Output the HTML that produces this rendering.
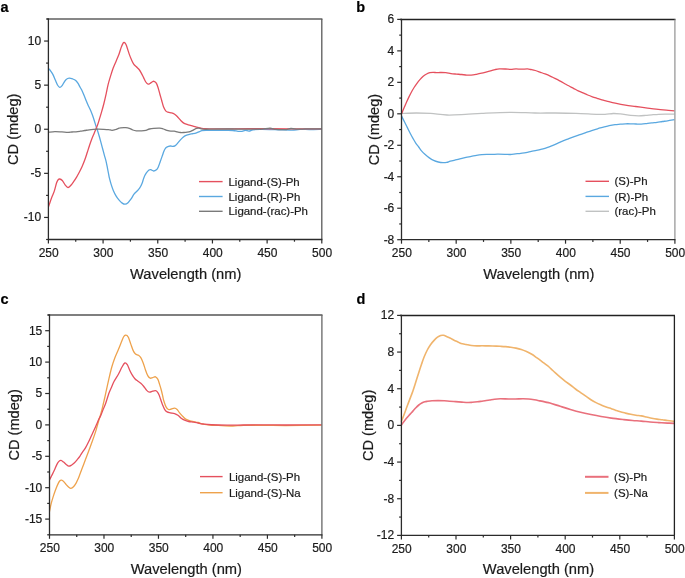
<!DOCTYPE html>
<html><head><meta charset="utf-8"><title>CD spectra</title>
<style>
html,body{margin:0;padding:0;background:#fff;}
body{width:685px;height:578px;overflow:hidden;}
svg{display:block;will-change:transform;font-family:"Liberation Sans", sans-serif;}
text{stroke:#1a1a1a;stroke-width:0.2px;paint-order:stroke;}
</style></head><body>
<svg width="685" height="578" viewBox="0 0 685 578"><g><path d="M48.50,68.50 C48.90,68.97 50.13,70.23 50.90,71.30 C51.67,72.37 52.37,73.43 53.10,74.90 C53.83,76.37 54.57,78.42 55.30,80.10 C56.03,81.78 56.77,83.80 57.50,85.00 C58.23,86.20 58.97,87.15 59.70,87.30 C60.43,87.45 61.17,86.73 61.90,85.90 C62.63,85.07 63.38,83.38 64.10,82.30 C64.82,81.22 65.35,80.08 66.20,79.40 C67.05,78.72 68.10,78.27 69.20,78.20 C70.30,78.13 71.72,78.63 72.80,79.00 C73.88,79.37 74.85,79.70 75.70,80.40 C76.55,81.10 77.17,82.07 77.90,83.20 C78.63,84.33 79.37,85.87 80.10,87.20 C80.83,88.53 81.65,89.85 82.30,91.20 C82.95,92.55 83.42,93.88 84.00,95.30 C84.58,96.72 85.15,98.13 85.80,99.70 C86.45,101.27 87.17,103.05 87.90,104.70 C88.63,106.35 89.43,107.83 90.20,109.60 C90.97,111.37 91.80,113.40 92.50,115.30 C93.20,117.20 93.77,119.03 94.40,121.00 C95.03,122.97 95.85,125.72 96.30,127.10 C96.75,128.48 96.63,127.85 97.10,129.30 C97.57,130.75 98.45,133.58 99.10,135.80 C99.75,138.02 100.40,140.40 101.00,142.60 C101.60,144.80 102.13,146.88 102.70,149.00 C103.27,151.12 103.82,153.17 104.40,155.30 C104.98,157.43 105.68,159.63 106.20,161.80 C106.72,163.97 107.10,166.27 107.50,168.30 C107.90,170.33 108.27,172.32 108.60,174.00 C108.93,175.68 109.05,176.58 109.50,178.40 C109.95,180.22 110.65,182.85 111.30,184.90 C111.95,186.95 112.62,188.88 113.40,190.70 C114.18,192.52 115.08,194.28 116.00,195.80 C116.92,197.32 117.87,198.58 118.90,199.80 C119.93,201.02 121.17,202.37 122.20,203.10 C123.23,203.83 124.13,204.27 125.10,204.20 C126.07,204.13 127.03,203.55 128.00,202.70 C128.97,201.85 129.90,200.52 130.90,199.10 C131.90,197.68 133.02,195.50 134.00,194.20 C134.98,192.90 135.87,192.30 136.80,191.30 C137.73,190.30 138.73,189.50 139.60,188.20 C140.47,186.90 141.30,185.22 142.00,183.50 C142.70,181.78 143.10,179.62 143.80,177.90 C144.50,176.18 145.33,174.50 146.20,173.20 C147.07,171.90 148.23,170.68 149.00,170.10 C149.77,169.52 150.03,169.55 150.80,169.70 C151.57,169.85 152.67,170.98 153.60,171.00 C154.53,171.02 155.62,170.48 156.40,169.80 C157.18,169.12 157.67,168.25 158.30,166.90 C158.93,165.55 159.57,163.45 160.20,161.70 C160.83,159.95 161.48,158.13 162.10,156.40 C162.72,154.67 163.42,152.53 163.90,151.30 C164.38,150.07 164.57,149.67 165.00,149.00 C165.43,148.33 165.92,147.75 166.50,147.30 C167.08,146.85 167.83,146.52 168.50,146.30 C169.17,146.08 169.82,145.98 170.50,146.00 C171.18,146.02 171.87,146.42 172.60,146.40 C173.33,146.38 174.12,146.37 174.90,145.90 C175.68,145.43 176.42,144.57 177.30,143.60 C178.18,142.63 179.23,141.17 180.20,140.10 C181.17,139.03 182.13,137.98 183.10,137.20 C184.07,136.42 184.93,135.88 186.00,135.40 C187.07,134.92 188.33,134.58 189.50,134.30 C190.67,134.02 191.83,133.95 193.00,133.70 C194.17,133.45 195.42,133.15 196.50,132.80 C197.58,132.45 198.62,131.97 199.50,131.60 C200.38,131.23 200.72,130.82 201.80,130.60 C202.88,130.38 203.80,130.33 206.00,130.30 C208.20,130.27 211.83,130.38 215.00,130.40 C218.17,130.42 222.00,130.38 225.00,130.40 C228.00,130.42 230.83,130.35 233.00,130.50 C235.17,130.65 236.50,131.17 238.00,131.30 C239.50,131.43 240.78,131.47 242.00,131.30 C243.22,131.13 244.13,130.33 245.30,130.30 C246.47,130.27 247.72,131.18 249.00,131.10 C250.28,131.02 251.17,130.08 253.00,129.80 C254.83,129.52 257.17,129.45 260.00,129.40 C262.83,129.35 266.67,129.42 270.00,129.50 C273.33,129.58 276.33,129.80 280.00,129.90 C283.67,130.00 288.67,130.18 292.00,130.10 C295.33,130.02 297.00,129.50 300.00,129.40 C303.00,129.30 306.42,129.53 310.00,129.50 C313.58,129.47 319.58,129.25 321.50,129.20" fill="none" stroke="#5aa8e0" stroke-width="1.3" stroke-linejoin="round"/><path d="M48.50,206.80 C49.05,205.20 50.85,199.77 51.80,197.20 C52.75,194.63 53.40,193.80 54.20,191.40 C55.00,189.00 55.93,184.75 56.60,182.80 C57.27,180.85 57.70,180.33 58.20,179.70 C58.70,179.07 58.92,178.87 59.60,179.00 C60.28,179.13 61.38,179.53 62.30,180.50 C63.22,181.47 64.15,183.63 65.10,184.80 C66.05,185.97 67.03,187.42 68.00,187.50 C68.97,187.58 69.93,186.32 70.90,185.30 C71.87,184.28 72.85,182.77 73.80,181.40 C74.75,180.03 75.73,178.53 76.60,177.10 C77.47,175.67 78.10,174.52 79.00,172.80 C79.90,171.08 81.00,169.05 82.00,166.80 C83.00,164.55 84.12,161.72 85.00,159.30 C85.88,156.88 86.57,154.55 87.30,152.30 C88.03,150.05 88.68,147.92 89.40,145.80 C90.12,143.68 90.87,141.53 91.60,139.60 C92.33,137.67 93.13,135.83 93.80,134.20 C94.47,132.57 94.93,131.45 95.60,129.80 C96.27,128.15 97.18,126.02 97.80,124.30 C98.42,122.58 98.67,121.57 99.30,119.50 C99.93,117.43 100.83,114.57 101.60,111.90 C102.37,109.23 103.13,106.55 103.90,103.50 C104.67,100.45 105.50,96.75 106.20,93.60 C106.90,90.45 107.40,87.43 108.10,84.60 C108.80,81.77 109.57,79.33 110.40,76.60 C111.23,73.87 112.13,70.82 113.10,68.20 C114.07,65.58 115.23,63.18 116.20,60.90 C117.17,58.62 118.07,56.75 118.90,54.50 C119.73,52.25 120.52,49.27 121.20,47.40 C121.88,45.53 122.52,44.13 123.00,43.30 C123.48,42.47 123.60,42.20 124.10,42.40 C124.60,42.60 125.38,43.28 126.00,44.50 C126.62,45.72 127.20,47.93 127.80,49.70 C128.40,51.47 129.00,53.45 129.60,55.10 C130.20,56.75 130.72,58.10 131.40,59.60 C132.08,61.10 132.87,62.90 133.70,64.10 C134.53,65.30 135.50,65.90 136.40,66.80 C137.30,67.70 138.28,68.45 139.10,69.50 C139.92,70.55 140.55,71.75 141.30,73.10 C142.05,74.45 142.85,76.12 143.60,77.60 C144.35,79.08 145.05,80.90 145.80,82.00 C146.55,83.10 147.32,84.02 148.10,84.20 C148.88,84.38 149.85,83.47 150.50,83.10 C151.15,82.73 151.42,82.30 152.00,82.00 C152.58,81.70 153.28,81.10 154.00,81.30 C154.72,81.50 155.62,82.12 156.30,83.20 C156.98,84.28 157.50,85.97 158.10,87.80 C158.70,89.63 159.30,92.08 159.90,94.20 C160.50,96.32 161.10,98.40 161.70,100.50 C162.30,102.60 162.83,105.08 163.50,106.80 C164.17,108.52 164.95,109.90 165.70,110.80 C166.45,111.70 167.02,111.85 168.00,112.20 C168.98,112.55 170.55,112.60 171.60,112.90 C172.65,113.20 173.40,113.45 174.30,114.00 C175.20,114.55 175.95,115.15 177.00,116.20 C178.05,117.25 179.40,119.10 180.60,120.30 C181.80,121.50 182.93,122.65 184.20,123.40 C185.47,124.15 186.73,124.35 188.20,124.80 C189.67,125.25 191.42,125.67 193.00,126.10 C194.58,126.53 196.23,127.03 197.70,127.40 C199.17,127.77 200.58,128.08 201.80,128.30 C203.02,128.52 203.63,128.62 205.00,128.70 C206.37,128.78 205.83,128.77 210.00,128.80 C214.17,128.83 221.67,128.92 230.00,128.90 C238.33,128.88 250.00,128.70 260.00,128.70 C270.00,128.70 279.75,128.87 290.00,128.90 C300.25,128.93 316.25,128.90 321.50,128.90" fill="none" stroke="#e5505e" stroke-width="1.3" stroke-linejoin="round"/><path d="M48.50,132.20 C49.57,132.10 52.67,131.65 54.90,131.60 C57.13,131.55 59.73,131.78 61.90,131.90 C64.07,132.02 66.22,132.28 67.90,132.30 C69.58,132.32 70.65,132.08 72.00,132.00 C73.35,131.92 74.60,131.93 76.00,131.80 C77.40,131.67 78.95,131.42 80.40,131.20 C81.85,130.98 83.25,130.73 84.70,130.50 C86.15,130.27 87.65,129.98 89.10,129.80 C90.55,129.62 91.95,129.50 93.40,129.40 C94.85,129.30 96.15,129.22 97.80,129.20 C99.45,129.18 101.53,129.23 103.30,129.30 C105.07,129.37 106.95,129.43 108.40,129.60 C109.85,129.77 110.80,130.32 112.00,130.30 C113.20,130.28 114.52,129.83 115.60,129.50 C116.68,129.17 117.68,128.58 118.50,128.30 C119.32,128.02 119.28,127.90 120.50,127.80 C121.72,127.70 124.33,127.62 125.80,127.70 C127.27,127.78 128.13,127.92 129.30,128.30 C130.47,128.68 131.63,129.58 132.80,130.00 C133.97,130.42 134.85,130.67 136.30,130.80 C137.75,130.93 139.90,130.88 141.50,130.80 C143.10,130.72 144.58,130.60 145.90,130.30 C147.22,130.00 148.08,129.33 149.40,129.00 C150.72,128.67 152.05,128.45 153.80,128.30 C155.55,128.15 158.30,127.98 159.90,128.10 C161.50,128.22 162.23,128.63 163.40,129.00 C164.57,129.37 165.67,129.93 166.90,130.30 C168.13,130.67 169.57,131.07 170.80,131.20 C172.03,131.33 173.22,130.98 174.30,131.10 C175.38,131.22 176.32,131.67 177.30,131.90 C178.28,132.13 179.13,132.40 180.20,132.50 C181.27,132.60 182.53,132.55 183.70,132.50 C184.87,132.45 186.03,132.40 187.20,132.20 C188.37,132.00 189.63,131.68 190.70,131.30 C191.77,130.92 192.63,130.38 193.60,129.90 C194.57,129.42 195.62,128.70 196.50,128.40 C197.38,128.10 198.12,128.02 198.90,128.10 C199.68,128.18 200.18,128.70 201.20,128.90 C202.22,129.10 203.53,129.27 205.00,129.30 C206.47,129.33 205.83,129.15 210.00,129.10 C214.17,129.05 222.50,129.00 230.00,129.00 C237.50,129.00 249.67,129.07 255.00,129.10 C260.33,129.13 259.50,129.35 262.00,129.20 C264.50,129.05 267.67,128.17 270.00,128.20 C272.33,128.23 273.50,129.17 276.00,129.40 C278.50,129.63 282.50,129.75 285.00,129.60 C287.50,129.45 288.83,128.57 291.00,128.50 C293.17,128.43 295.67,129.13 298.00,129.20 C300.33,129.27 302.67,128.97 305.00,128.90 C307.33,128.83 309.25,128.80 312.00,128.80 C314.75,128.80 319.92,128.88 321.50,128.90" fill="none" stroke="#7a7a7a" stroke-width="1.3" stroke-linejoin="round"/></g><line x1="46.9" y1="19.0" x2="322.40000000000003" y2="19.0" stroke="#5f5f5f" stroke-width="1.5"/><line x1="321.8" y1="19.0" x2="321.8" y2="239.5" stroke="#5a5a5a" stroke-width="1.3"/><line x1="48.4" y1="18.4" x2="48.4" y2="240.1" stroke="#2b2b2b" stroke-width="1.3"/><line x1="47.8" y1="239.5" x2="322.40000000000003" y2="239.5" stroke="#2b2b2b" stroke-width="1.3"/><line x1="44.1" y1="41.05" x2="48.4" y2="41.05" stroke="#2b2b2b" stroke-width="1.2"/><text x="41.20" y="44.85" text-anchor="end" font-size="12" fill="#1a1a1a">10</text><line x1="44.1" y1="85.15" x2="48.4" y2="85.15" stroke="#2b2b2b" stroke-width="1.2"/><text x="41.20" y="88.95" text-anchor="end" font-size="12" fill="#1a1a1a">5</text><line x1="44.1" y1="129.25" x2="48.4" y2="129.25" stroke="#2b2b2b" stroke-width="1.2"/><text x="41.20" y="133.05" text-anchor="end" font-size="12" fill="#1a1a1a">0</text><line x1="44.1" y1="173.35" x2="48.4" y2="173.35" stroke="#2b2b2b" stroke-width="1.2"/><text x="41.20" y="177.15" text-anchor="end" font-size="12" fill="#1a1a1a">-5</text><line x1="44.1" y1="217.45" x2="48.4" y2="217.45" stroke="#2b2b2b" stroke-width="1.2"/><text x="41.20" y="221.25" text-anchor="end" font-size="12" fill="#1a1a1a">-10</text><line x1="46.1" y1="19.00" x2="48.4" y2="19.00" stroke="#2b2b2b" stroke-width="1.2"/><line x1="46.1" y1="63.10" x2="48.4" y2="63.10" stroke="#2b2b2b" stroke-width="1.2"/><line x1="46.1" y1="107.20" x2="48.4" y2="107.20" stroke="#2b2b2b" stroke-width="1.2"/><line x1="46.1" y1="151.30" x2="48.4" y2="151.30" stroke="#2b2b2b" stroke-width="1.2"/><line x1="46.1" y1="195.40" x2="48.4" y2="195.40" stroke="#2b2b2b" stroke-width="1.2"/><line x1="46.1" y1="239.50" x2="48.4" y2="239.50" stroke="#2b2b2b" stroke-width="1.2"/><line x1="48.40" y1="239.5" x2="48.40" y2="243.5" stroke="#2b2b2b" stroke-width="1.2"/><text x="48.70" y="256.80" text-anchor="middle" font-size="12" fill="#1a1a1a">250</text><line x1="103.08" y1="239.5" x2="103.08" y2="243.5" stroke="#2b2b2b" stroke-width="1.2"/><text x="103.38" y="256.80" text-anchor="middle" font-size="12" fill="#1a1a1a">300</text><line x1="157.76" y1="239.5" x2="157.76" y2="243.5" stroke="#2b2b2b" stroke-width="1.2"/><text x="158.06" y="256.80" text-anchor="middle" font-size="12" fill="#1a1a1a">350</text><line x1="212.44" y1="239.5" x2="212.44" y2="243.5" stroke="#2b2b2b" stroke-width="1.2"/><text x="212.74" y="256.80" text-anchor="middle" font-size="12" fill="#1a1a1a">400</text><line x1="267.12" y1="239.5" x2="267.12" y2="243.5" stroke="#2b2b2b" stroke-width="1.2"/><text x="267.42" y="256.80" text-anchor="middle" font-size="12" fill="#1a1a1a">450</text><line x1="321.80" y1="239.5" x2="321.80" y2="243.5" stroke="#2b2b2b" stroke-width="1.2"/><text x="322.10" y="256.80" text-anchor="middle" font-size="12" fill="#1a1a1a">500</text><line x1="75.74" y1="239.5" x2="75.74" y2="241.7" stroke="#2b2b2b" stroke-width="1.2"/><line x1="130.42" y1="239.5" x2="130.42" y2="241.7" stroke="#2b2b2b" stroke-width="1.2"/><line x1="185.10" y1="239.5" x2="185.10" y2="241.7" stroke="#2b2b2b" stroke-width="1.2"/><line x1="239.78" y1="239.5" x2="239.78" y2="241.7" stroke="#2b2b2b" stroke-width="1.2"/><line x1="294.46" y1="239.5" x2="294.46" y2="241.7" stroke="#2b2b2b" stroke-width="1.2"/><text x="185.70" y="278.50" text-anchor="middle" font-size="14.7" fill="#1a1a1a">Wavelength (nm)</text><text transform="translate(18.40,129.25) rotate(-90)" text-anchor="middle" font-size="14.6" fill="#1a1a1a">CD (mdeg)</text><text x="0.6" y="12.2" font-size="14.5" font-weight="bold" fill="#000">a</text><line x1="199" y1="181.6" x2="222.6" y2="181.6" stroke="#e5505e" stroke-width="1.4"/><text x="228.5" y="185.75" font-size="11.45" fill="#1a1a1a">Ligand-(S)-Ph</text><line x1="199" y1="196.5" x2="222.6" y2="196.5" stroke="#5aa8e0" stroke-width="1.4"/><text x="228.5" y="200.65" font-size="11.45" fill="#1a1a1a">Ligand-(R)-Ph</text><line x1="199" y1="211.3" x2="222.6" y2="211.3" stroke="#7a7a7a" stroke-width="1.4"/><text x="228.5" y="215.45" font-size="11.45" fill="#1a1a1a">Ligand-(rac)-Ph</text><g><path d="M401.60,113.40 C404.05,113.33 411.45,113.00 416.30,113.00 C421.15,113.00 425.58,113.07 430.70,113.40 C435.82,113.73 441.22,114.83 447.00,115.00 C452.78,115.17 459.62,114.67 465.40,114.40 C471.18,114.13 474.20,113.75 481.70,113.40 C489.20,113.05 501.52,112.37 510.40,112.30 C519.28,112.23 527.50,112.88 535.00,113.00 C542.50,113.12 548.58,112.93 555.40,113.00 C562.22,113.07 569.08,113.18 575.90,113.40 C582.72,113.62 591.45,114.13 596.30,114.30 C601.15,114.47 602.18,114.53 605.00,114.40 C607.82,114.27 610.65,113.58 613.20,113.50 C615.75,113.42 617.37,113.60 620.30,113.90 C623.23,114.20 627.75,114.98 630.80,115.30 C633.85,115.62 636.13,115.78 638.60,115.80 C641.07,115.82 643.40,115.57 645.60,115.40 C647.80,115.23 649.60,114.98 651.80,114.80 C654.00,114.62 656.18,114.40 658.80,114.30 C661.42,114.20 664.88,114.22 667.50,114.20 C670.12,114.18 673.33,114.20 674.50,114.20" fill="none" stroke="#c0c2c2" stroke-width="1.3" stroke-linejoin="round"/><path d="M401.70,113.50 C402.10,112.55 403.28,109.72 404.10,107.80 C404.92,105.88 405.77,103.87 406.60,102.00 C407.43,100.13 408.27,98.32 409.10,96.60 C409.93,94.88 410.77,93.22 411.60,91.70 C412.43,90.18 413.27,88.82 414.10,87.50 C414.93,86.18 415.63,85.12 416.60,83.80 C417.57,82.48 418.80,80.85 419.90,79.60 C421.00,78.35 422.08,77.23 423.20,76.30 C424.32,75.37 425.48,74.60 426.60,74.00 C427.72,73.40 428.80,72.97 429.90,72.70 C431.00,72.43 432.10,72.42 433.20,72.40 C434.30,72.38 435.28,72.58 436.50,72.60 C437.72,72.62 438.95,72.48 440.50,72.50 C442.05,72.52 444.05,72.52 445.80,72.70 C447.55,72.88 449.25,73.37 451.00,73.60 C452.75,73.83 454.55,73.95 456.30,74.10 C458.05,74.25 459.75,74.33 461.50,74.50 C463.25,74.67 465.18,75.00 466.80,75.10 C468.42,75.20 469.60,75.23 471.20,75.10 C472.80,74.97 474.65,74.62 476.40,74.30 C478.15,73.98 480.10,73.57 481.70,73.20 C483.30,72.83 484.37,72.53 486.00,72.10 C487.63,71.67 490.00,71.02 491.50,70.60 C493.00,70.18 493.68,69.88 495.00,69.60 C496.32,69.32 497.65,69.00 499.40,68.90 C501.15,68.80 503.60,68.92 505.50,69.00 C507.40,69.08 509.05,69.42 510.80,69.40 C512.55,69.38 514.25,68.93 516.00,68.90 C517.75,68.87 519.40,69.20 521.30,69.20 C523.20,69.20 525.80,68.85 527.40,68.90 C529.00,68.95 529.58,69.23 530.90,69.50 C532.22,69.77 533.70,70.03 535.30,70.50 C536.90,70.97 538.88,71.73 540.50,72.30 C542.12,72.87 543.47,73.32 545.00,73.90 C546.53,74.48 548.12,75.08 549.70,75.80 C551.28,76.52 552.92,77.40 554.50,78.20 C556.08,79.00 557.62,79.77 559.20,80.60 C560.78,81.43 562.42,82.33 564.00,83.20 C565.58,84.07 567.12,84.95 568.70,85.80 C570.28,86.65 571.92,87.47 573.50,88.30 C575.08,89.13 576.62,90.03 578.20,90.80 C579.78,91.57 581.42,92.20 583.00,92.90 C584.58,93.60 586.13,94.35 587.70,95.00 C589.27,95.65 590.82,96.23 592.40,96.80 C593.98,97.37 595.62,97.88 597.20,98.40 C598.78,98.92 600.32,99.45 601.90,99.90 C603.48,100.35 604.48,100.55 606.70,101.10 C608.92,101.65 612.08,102.52 615.20,103.20 C618.32,103.88 622.00,104.65 625.40,105.20 C628.80,105.75 632.18,106.07 635.60,106.50 C639.02,106.93 642.48,107.37 645.90,107.80 C649.32,108.23 652.70,108.72 656.10,109.10 C659.50,109.48 663.23,109.82 666.30,110.10 C669.37,110.38 673.13,110.68 674.50,110.80" fill="none" stroke="#e5505e" stroke-width="1.3" stroke-linejoin="round"/><path d="M401.60,116.10 C402.12,117.13 403.72,120.33 404.70,122.30 C405.68,124.27 406.57,126.03 407.50,127.90 C408.43,129.77 409.37,131.72 410.30,133.50 C411.23,135.28 412.17,136.97 413.10,138.60 C414.03,140.23 414.97,141.90 415.90,143.30 C416.83,144.70 417.77,145.75 418.70,147.00 C419.63,148.25 420.42,149.55 421.50,150.80 C422.58,152.05 423.95,153.37 425.20,154.50 C426.45,155.63 427.60,156.62 429.00,157.60 C430.40,158.58 432.05,159.67 433.60,160.40 C435.15,161.13 436.73,161.62 438.30,162.00 C439.87,162.38 441.60,162.63 443.00,162.70 C444.40,162.77 445.48,162.65 446.70,162.40 C447.92,162.15 448.83,161.62 450.30,161.20 C451.77,160.78 453.75,160.33 455.50,159.90 C457.25,159.47 459.05,159.02 460.80,158.60 C462.55,158.18 464.25,157.77 466.00,157.40 C467.75,157.03 469.55,156.75 471.30,156.40 C473.05,156.05 474.75,155.60 476.50,155.30 C478.25,155.00 480.05,154.75 481.80,154.60 C483.55,154.45 485.25,154.43 487.00,154.40 C488.75,154.37 490.55,154.43 492.30,154.40 C494.05,154.37 495.38,154.22 497.50,154.20 C499.62,154.18 502.87,154.25 505.00,154.30 C507.13,154.35 508.55,154.57 510.30,154.50 C512.05,154.43 513.75,154.10 515.50,153.90 C517.25,153.70 519.05,153.52 520.80,153.30 C522.55,153.08 524.25,152.92 526.00,152.60 C527.75,152.28 529.55,151.77 531.30,151.40 C533.05,151.03 534.75,150.78 536.50,150.40 C538.25,150.02 540.05,149.57 541.80,149.10 C543.55,148.63 545.25,148.18 547.00,147.60 C548.75,147.02 550.55,146.30 552.30,145.60 C554.05,144.90 555.80,144.15 557.50,143.40 C559.20,142.65 560.68,141.87 562.50,141.10 C564.32,140.33 566.45,139.55 568.40,138.80 C570.35,138.05 572.27,137.30 574.20,136.60 C576.13,135.90 578.07,135.27 580.00,134.60 C581.93,133.93 583.85,133.27 585.80,132.60 C587.75,131.93 589.75,131.23 591.70,130.60 C593.65,129.97 595.55,129.37 597.50,128.80 C599.45,128.23 601.45,127.73 603.40,127.20 C605.35,126.67 607.27,126.03 609.20,125.60 C611.13,125.17 613.15,124.83 615.00,124.60 C616.85,124.37 618.55,124.33 620.30,124.20 C622.05,124.07 623.75,123.87 625.50,123.80 C627.25,123.73 629.05,123.77 630.80,123.80 C632.55,123.83 634.25,123.95 636.00,124.00 C637.75,124.05 639.55,124.17 641.30,124.10 C643.05,124.03 644.75,123.80 646.50,123.60 C648.25,123.40 650.05,123.12 651.80,122.90 C653.55,122.68 655.25,122.53 657.00,122.30 C658.75,122.07 660.55,121.75 662.30,121.50 C664.05,121.25 665.47,121.12 667.50,120.80 C669.53,120.48 673.33,119.80 674.50,119.60" fill="none" stroke="#5aa8e0" stroke-width="1.3" stroke-linejoin="round"/></g><line x1="400.0" y1="19.4" x2="675.5" y2="19.4" stroke="#222222" stroke-width="1.5"/><line x1="674.9" y1="19.4" x2="674.9" y2="239.7" stroke="#999999" stroke-width="1.3"/><line x1="401.5" y1="18.799999999999997" x2="401.5" y2="240.29999999999998" stroke="#2b2b2b" stroke-width="1.3"/><line x1="400.9" y1="239.7" x2="675.5" y2="239.7" stroke="#2b2b2b" stroke-width="1.3"/><line x1="397.2" y1="19.40" x2="401.5" y2="19.40" stroke="#2b2b2b" stroke-width="1.2"/><text x="394.30" y="23.20" text-anchor="end" font-size="12" fill="#1a1a1a">6</text><line x1="397.2" y1="50.87" x2="401.5" y2="50.87" stroke="#2b2b2b" stroke-width="1.2"/><text x="394.30" y="54.67" text-anchor="end" font-size="12" fill="#1a1a1a">4</text><line x1="397.2" y1="82.34" x2="401.5" y2="82.34" stroke="#2b2b2b" stroke-width="1.2"/><text x="394.30" y="86.14" text-anchor="end" font-size="12" fill="#1a1a1a">2</text><line x1="397.2" y1="113.81" x2="401.5" y2="113.81" stroke="#2b2b2b" stroke-width="1.2"/><text x="394.30" y="117.61" text-anchor="end" font-size="12" fill="#1a1a1a">0</text><line x1="397.2" y1="145.29" x2="401.5" y2="145.29" stroke="#2b2b2b" stroke-width="1.2"/><text x="394.30" y="149.09" text-anchor="end" font-size="12" fill="#1a1a1a">-2</text><line x1="397.2" y1="176.76" x2="401.5" y2="176.76" stroke="#2b2b2b" stroke-width="1.2"/><text x="394.30" y="180.56" text-anchor="end" font-size="12" fill="#1a1a1a">-4</text><line x1="397.2" y1="208.23" x2="401.5" y2="208.23" stroke="#2b2b2b" stroke-width="1.2"/><text x="394.30" y="212.03" text-anchor="end" font-size="12" fill="#1a1a1a">-6</text><line x1="397.2" y1="239.70" x2="401.5" y2="239.70" stroke="#2b2b2b" stroke-width="1.2"/><text x="394.30" y="243.50" text-anchor="end" font-size="12" fill="#1a1a1a">-8</text><line x1="399.2" y1="35.14" x2="401.5" y2="35.14" stroke="#2b2b2b" stroke-width="1.2"/><line x1="399.2" y1="66.61" x2="401.5" y2="66.61" stroke="#2b2b2b" stroke-width="1.2"/><line x1="399.2" y1="98.08" x2="401.5" y2="98.08" stroke="#2b2b2b" stroke-width="1.2"/><line x1="399.2" y1="129.55" x2="401.5" y2="129.55" stroke="#2b2b2b" stroke-width="1.2"/><line x1="399.2" y1="161.02" x2="401.5" y2="161.02" stroke="#2b2b2b" stroke-width="1.2"/><line x1="399.2" y1="192.49" x2="401.5" y2="192.49" stroke="#2b2b2b" stroke-width="1.2"/><line x1="399.2" y1="223.96" x2="401.5" y2="223.96" stroke="#2b2b2b" stroke-width="1.2"/><line x1="401.50" y1="239.7" x2="401.50" y2="243.7" stroke="#2b2b2b" stroke-width="1.2"/><text x="401.80" y="257.00" text-anchor="middle" font-size="12" fill="#1a1a1a">250</text><line x1="456.18" y1="239.7" x2="456.18" y2="243.7" stroke="#2b2b2b" stroke-width="1.2"/><text x="456.48" y="257.00" text-anchor="middle" font-size="12" fill="#1a1a1a">300</text><line x1="510.86" y1="239.7" x2="510.86" y2="243.7" stroke="#2b2b2b" stroke-width="1.2"/><text x="511.16" y="257.00" text-anchor="middle" font-size="12" fill="#1a1a1a">350</text><line x1="565.54" y1="239.7" x2="565.54" y2="243.7" stroke="#2b2b2b" stroke-width="1.2"/><text x="565.84" y="257.00" text-anchor="middle" font-size="12" fill="#1a1a1a">400</text><line x1="620.22" y1="239.7" x2="620.22" y2="243.7" stroke="#2b2b2b" stroke-width="1.2"/><text x="620.52" y="257.00" text-anchor="middle" font-size="12" fill="#1a1a1a">450</text><line x1="674.90" y1="239.7" x2="674.90" y2="243.7" stroke="#2b2b2b" stroke-width="1.2"/><text x="675.20" y="257.00" text-anchor="middle" font-size="12" fill="#1a1a1a">500</text><line x1="428.84" y1="239.7" x2="428.84" y2="241.89999999999998" stroke="#2b2b2b" stroke-width="1.2"/><line x1="483.52" y1="239.7" x2="483.52" y2="241.89999999999998" stroke="#2b2b2b" stroke-width="1.2"/><line x1="538.20" y1="239.7" x2="538.20" y2="241.89999999999998" stroke="#2b2b2b" stroke-width="1.2"/><line x1="592.88" y1="239.7" x2="592.88" y2="241.89999999999998" stroke="#2b2b2b" stroke-width="1.2"/><line x1="647.56" y1="239.7" x2="647.56" y2="241.89999999999998" stroke="#2b2b2b" stroke-width="1.2"/><text x="538.80" y="278.70" text-anchor="middle" font-size="14.7" fill="#1a1a1a">Wavelength (nm)</text><text transform="translate(379.00,129.55) rotate(-90)" text-anchor="middle" font-size="14.6" fill="#1a1a1a">CD (mdeg)</text><text x="356.2" y="12.0" font-size="14.5" font-weight="bold" fill="#000">b</text><line x1="585.5" y1="181.3" x2="609" y2="181.3" stroke="#e5505e" stroke-width="1.4"/><text x="614.5" y="185.45" font-size="11.45" fill="#1a1a1a">(S)-Ph</text><line x1="585.5" y1="196.4" x2="609" y2="196.4" stroke="#5aa8e0" stroke-width="1.4"/><text x="614.5" y="200.55" font-size="11.45" fill="#1a1a1a">(R)-Ph</text><line x1="585.5" y1="211.3" x2="609" y2="211.3" stroke="#c0c2c2" stroke-width="1.4"/><text x="614.5" y="215.45" font-size="11.45" fill="#1a1a1a">(rac)-Ph</text><g><path d="M49.50,511.50 C49.77,510.23 50.48,506.38 51.10,503.90 C51.72,501.42 52.50,498.85 53.20,496.60 C53.90,494.35 54.52,492.48 55.30,490.40 C56.08,488.32 57.13,485.70 57.90,484.10 C58.67,482.50 59.30,481.45 59.90,480.80 C60.50,480.15 60.88,480.08 61.50,480.20 C62.12,480.32 62.82,480.77 63.60,481.50 C64.38,482.23 65.33,483.65 66.20,484.60 C67.07,485.55 68.02,486.58 68.80,487.20 C69.58,487.82 70.12,488.38 70.90,488.30 C71.68,488.22 72.63,487.57 73.50,486.70 C74.37,485.83 75.33,484.40 76.10,483.10 C76.87,481.80 77.45,480.42 78.10,478.90 C78.75,477.38 79.43,475.48 80.00,474.00 C80.57,472.52 80.65,472.23 81.50,470.00 C82.35,467.77 83.92,463.73 85.10,460.60 C86.28,457.47 87.43,454.33 88.60,451.20 C89.77,448.07 90.93,445.07 92.10,441.80 C93.27,438.53 94.75,434.23 95.60,431.60 C96.45,428.97 96.63,427.97 97.20,426.00 C97.77,424.03 98.45,421.63 99.00,419.80 C99.55,417.97 100.00,416.72 100.50,415.00 C101.00,413.28 101.52,411.42 102.00,409.50 C102.48,407.58 102.93,405.50 103.40,403.50 C103.87,401.50 104.37,399.43 104.80,397.50 C105.23,395.57 105.32,395.02 106.00,391.90 C106.68,388.78 107.93,382.95 108.90,378.80 C109.87,374.65 110.83,370.43 111.80,367.00 C112.77,363.57 113.60,361.12 114.70,358.20 C115.80,355.28 117.18,352.45 118.40,349.50 C119.62,346.55 121.10,342.67 122.00,340.50 C122.90,338.33 123.22,337.40 123.80,336.50 C124.38,335.60 124.95,335.25 125.50,335.10 C126.05,334.95 126.60,335.18 127.10,335.60 C127.60,336.02 127.88,336.18 128.50,337.60 C129.12,339.02 130.02,341.93 130.80,344.10 C131.58,346.27 132.42,348.93 133.20,350.60 C133.98,352.27 134.62,353.32 135.50,354.10 C136.38,354.88 137.62,354.72 138.50,355.30 C139.38,355.88 140.02,356.33 140.80,357.60 C141.58,358.87 142.42,360.83 143.20,362.90 C143.98,364.97 144.72,367.83 145.50,370.00 C146.28,372.17 147.12,374.53 147.90,375.90 C148.68,377.27 149.42,377.92 150.20,378.20 C150.98,378.48 151.72,377.83 152.60,377.60 C153.48,377.37 154.62,376.50 155.50,376.80 C156.38,377.10 157.22,378.13 157.90,379.40 C158.58,380.67 159.02,382.55 159.60,384.40 C160.18,386.25 160.87,388.48 161.40,390.50 C161.93,392.52 162.40,394.80 162.80,396.50 C163.20,398.20 163.28,399.02 163.80,400.70 C164.32,402.38 165.13,405.13 165.90,406.60 C166.67,408.07 167.50,409.10 168.40,409.50 C169.30,409.90 170.27,409.22 171.30,409.00 C172.33,408.78 173.63,408.12 174.60,408.20 C175.57,408.28 176.27,408.73 177.10,409.50 C177.93,410.27 178.63,411.63 179.60,412.80 C180.57,413.97 181.80,415.40 182.90,416.50 C184.00,417.60 184.82,418.63 186.20,419.40 C187.58,420.17 189.23,420.58 191.20,421.10 C193.17,421.62 195.98,422.00 198.00,422.50 C200.02,423.00 201.30,423.68 203.30,424.10 C205.30,424.52 207.53,424.78 210.00,425.00 C212.47,425.22 214.28,425.23 218.10,425.40 C221.92,425.57 228.67,426.02 232.90,426.00 C237.13,425.98 238.20,425.42 243.50,425.30 C248.80,425.18 257.65,425.25 264.70,425.30 C271.75,425.35 276.32,425.62 285.80,425.60 C295.28,425.58 315.63,425.27 321.60,425.20" fill="none" stroke="#eea24c" stroke-width="1.3" stroke-linejoin="round"/><path d="M49.50,480.00 C49.85,479.30 50.82,477.37 51.60,475.80 C52.38,474.23 53.33,472.47 54.20,470.60 C55.07,468.73 56.02,466.13 56.80,464.60 C57.58,463.07 58.20,462.10 58.90,461.40 C59.60,460.70 60.22,460.28 61.00,460.40 C61.78,460.52 62.73,461.43 63.60,462.10 C64.47,462.77 65.33,463.72 66.20,464.40 C67.07,465.08 67.93,466.07 68.80,466.20 C69.67,466.33 70.45,465.77 71.40,465.20 C72.35,464.63 73.47,463.80 74.50,462.80 C75.53,461.80 76.68,460.32 77.60,459.20 C78.52,458.08 79.35,457.03 80.00,456.10 C80.65,455.17 80.57,455.02 81.50,453.60 C82.43,452.18 84.32,449.77 85.60,447.60 C86.88,445.43 88.02,443.05 89.20,440.60 C90.38,438.15 91.85,434.75 92.70,432.90 C93.55,431.05 93.65,430.93 94.30,429.50 C94.95,428.07 95.87,425.97 96.60,424.30 C97.33,422.63 97.97,421.05 98.70,419.50 C99.43,417.95 100.22,416.78 101.00,415.00 C101.78,413.22 102.60,410.80 103.40,408.80 C104.20,406.80 104.88,405.58 105.80,403.00 C106.72,400.42 107.95,395.93 108.90,393.30 C109.85,390.67 110.65,389.17 111.50,387.20 C112.35,385.23 112.85,383.67 114.00,381.50 C115.15,379.33 117.07,376.62 118.40,374.20 C119.73,371.78 120.92,368.88 122.00,367.00 C123.08,365.12 124.02,363.28 124.90,362.90 C125.78,362.52 126.52,363.52 127.30,364.70 C128.08,365.88 128.82,368.33 129.60,370.00 C130.38,371.67 131.12,373.23 132.00,374.70 C132.88,376.17 133.92,377.72 134.90,378.80 C135.88,379.88 136.92,380.45 137.90,381.20 C138.88,381.95 139.82,382.42 140.80,383.30 C141.78,384.18 142.82,385.32 143.80,386.50 C144.78,387.68 145.73,389.45 146.70,390.40 C147.67,391.35 148.62,392.07 149.60,392.20 C150.58,392.33 151.62,391.45 152.60,391.20 C153.58,390.95 154.72,390.60 155.50,390.70 C156.28,390.80 156.70,391.08 157.30,391.80 C157.90,392.52 158.57,393.80 159.10,395.00 C159.63,396.20 159.92,397.35 160.50,399.00 C161.08,400.65 161.92,403.18 162.60,404.90 C163.28,406.62 163.85,408.13 164.60,409.30 C165.35,410.47 166.13,411.32 167.10,411.90 C168.07,412.48 169.15,412.52 170.40,412.80 C171.65,413.08 173.35,413.18 174.60,413.60 C175.85,414.02 176.80,414.53 177.90,415.30 C179.00,416.07 180.08,417.38 181.20,418.20 C182.32,419.02 183.35,419.65 184.60,420.20 C185.85,420.75 187.18,421.17 188.70,421.50 C190.22,421.83 192.15,421.95 193.70,422.20 C195.25,422.45 196.40,422.70 198.00,423.00 C199.60,423.30 199.95,423.67 203.30,424.00 C206.65,424.33 211.40,424.83 218.10,425.00 C224.80,425.17 235.73,425.03 243.50,425.00 C251.27,424.97 257.65,424.80 264.70,424.80 C271.75,424.80 276.32,425.00 285.80,425.00 C295.28,425.00 315.63,424.83 321.60,424.80" fill="none" stroke="#e5505e" stroke-width="1.3" stroke-linejoin="round"/></g><line x1="48.0" y1="315.0" x2="322.5" y2="315.0" stroke="#555555" stroke-width="1.5"/><line x1="321.9" y1="315.0" x2="321.9" y2="534.8" stroke="#666666" stroke-width="1.3"/><line x1="49.5" y1="314.4" x2="49.5" y2="535.4" stroke="#2b2b2b" stroke-width="1.3"/><line x1="48.9" y1="534.8" x2="322.5" y2="534.8" stroke="#2b2b2b" stroke-width="1.3"/><line x1="45.2" y1="330.70" x2="49.5" y2="330.70" stroke="#2b2b2b" stroke-width="1.2"/><text x="42.30" y="334.50" text-anchor="end" font-size="12" fill="#1a1a1a">15</text><line x1="45.2" y1="362.10" x2="49.5" y2="362.10" stroke="#2b2b2b" stroke-width="1.2"/><text x="42.30" y="365.90" text-anchor="end" font-size="12" fill="#1a1a1a">10</text><line x1="45.2" y1="393.50" x2="49.5" y2="393.50" stroke="#2b2b2b" stroke-width="1.2"/><text x="42.30" y="397.30" text-anchor="end" font-size="12" fill="#1a1a1a">5</text><line x1="45.2" y1="424.90" x2="49.5" y2="424.90" stroke="#2b2b2b" stroke-width="1.2"/><text x="42.30" y="428.70" text-anchor="end" font-size="12" fill="#1a1a1a">0</text><line x1="45.2" y1="456.30" x2="49.5" y2="456.30" stroke="#2b2b2b" stroke-width="1.2"/><text x="42.30" y="460.10" text-anchor="end" font-size="12" fill="#1a1a1a">-5</text><line x1="45.2" y1="487.70" x2="49.5" y2="487.70" stroke="#2b2b2b" stroke-width="1.2"/><text x="42.30" y="491.50" text-anchor="end" font-size="12" fill="#1a1a1a">-10</text><line x1="45.2" y1="519.10" x2="49.5" y2="519.10" stroke="#2b2b2b" stroke-width="1.2"/><text x="42.30" y="522.90" text-anchor="end" font-size="12" fill="#1a1a1a">-15</text><line x1="47.2" y1="315.00" x2="49.5" y2="315.00" stroke="#2b2b2b" stroke-width="1.2"/><line x1="47.2" y1="346.40" x2="49.5" y2="346.40" stroke="#2b2b2b" stroke-width="1.2"/><line x1="47.2" y1="377.80" x2="49.5" y2="377.80" stroke="#2b2b2b" stroke-width="1.2"/><line x1="47.2" y1="409.20" x2="49.5" y2="409.20" stroke="#2b2b2b" stroke-width="1.2"/><line x1="47.2" y1="440.60" x2="49.5" y2="440.60" stroke="#2b2b2b" stroke-width="1.2"/><line x1="47.2" y1="472.00" x2="49.5" y2="472.00" stroke="#2b2b2b" stroke-width="1.2"/><line x1="47.2" y1="503.40" x2="49.5" y2="503.40" stroke="#2b2b2b" stroke-width="1.2"/><line x1="47.2" y1="534.80" x2="49.5" y2="534.80" stroke="#2b2b2b" stroke-width="1.2"/><line x1="49.50" y1="534.8" x2="49.50" y2="538.8" stroke="#2b2b2b" stroke-width="1.2"/><text x="49.80" y="552.10" text-anchor="middle" font-size="12" fill="#1a1a1a">250</text><line x1="103.98" y1="534.8" x2="103.98" y2="538.8" stroke="#2b2b2b" stroke-width="1.2"/><text x="104.28" y="552.10" text-anchor="middle" font-size="12" fill="#1a1a1a">300</text><line x1="158.46" y1="534.8" x2="158.46" y2="538.8" stroke="#2b2b2b" stroke-width="1.2"/><text x="158.76" y="552.10" text-anchor="middle" font-size="12" fill="#1a1a1a">350</text><line x1="212.94" y1="534.8" x2="212.94" y2="538.8" stroke="#2b2b2b" stroke-width="1.2"/><text x="213.24" y="552.10" text-anchor="middle" font-size="12" fill="#1a1a1a">400</text><line x1="267.42" y1="534.8" x2="267.42" y2="538.8" stroke="#2b2b2b" stroke-width="1.2"/><text x="267.72" y="552.10" text-anchor="middle" font-size="12" fill="#1a1a1a">450</text><line x1="321.90" y1="534.8" x2="321.90" y2="538.8" stroke="#2b2b2b" stroke-width="1.2"/><text x="322.20" y="552.10" text-anchor="middle" font-size="12" fill="#1a1a1a">500</text><line x1="76.74" y1="534.8" x2="76.74" y2="537.0" stroke="#2b2b2b" stroke-width="1.2"/><line x1="131.22" y1="534.8" x2="131.22" y2="537.0" stroke="#2b2b2b" stroke-width="1.2"/><line x1="185.70" y1="534.8" x2="185.70" y2="537.0" stroke="#2b2b2b" stroke-width="1.2"/><line x1="240.18" y1="534.8" x2="240.18" y2="537.0" stroke="#2b2b2b" stroke-width="1.2"/><line x1="294.66" y1="534.8" x2="294.66" y2="537.0" stroke="#2b2b2b" stroke-width="1.2"/><text x="186.30" y="573.80" text-anchor="middle" font-size="14.7" fill="#1a1a1a">Wavelength (nm)</text><text transform="translate(19.20,424.90) rotate(-90)" text-anchor="middle" font-size="14.6" fill="#1a1a1a">CD (mdeg)</text><text x="0.6" y="303.8" font-size="14.5" font-weight="bold" fill="#000">c</text><line x1="200" y1="476.6" x2="222.6" y2="476.6" stroke="#e5505e" stroke-width="1.4"/><text x="228.9" y="480.75" font-size="11.45" fill="#1a1a1a">Ligand-(S)-Ph</text><line x1="200" y1="492.7" x2="222.6" y2="492.7" stroke="#eea24c" stroke-width="1.4"/><text x="228.9" y="496.85" font-size="11.45" fill="#1a1a1a">Ligand-(S)-Na</text><g><path d="M401.20,425.30 C401.67,424.67 403.05,422.75 404.00,421.50 C404.95,420.25 405.92,418.98 406.90,417.80 C407.88,416.62 408.90,415.52 409.90,414.40 C410.90,413.28 411.90,412.22 412.90,411.10 C413.90,409.98 414.92,408.72 415.90,407.70 C416.88,406.68 417.82,405.78 418.80,405.00 C419.78,404.22 420.80,403.53 421.80,403.00 C422.80,402.47 423.83,402.08 424.80,401.80 C425.77,401.52 426.40,401.47 427.60,401.30 C428.80,401.13 430.25,400.92 432.00,400.80 C433.75,400.68 436.05,400.60 438.10,400.60 C440.15,400.60 442.40,400.70 444.30,400.80 C446.20,400.90 447.62,401.07 449.50,401.20 C451.38,401.33 453.55,401.45 455.60,401.60 C457.65,401.75 459.75,401.95 461.80,402.10 C463.85,402.25 466.15,402.47 467.90,402.50 C469.65,402.53 470.70,402.42 472.30,402.30 C473.90,402.18 475.90,401.98 477.50,401.80 C479.10,401.62 480.65,401.37 481.90,401.20 C483.15,401.03 483.70,401.00 485.00,400.80 C486.30,400.60 488.12,400.27 489.70,400.00 C491.28,399.73 492.75,399.40 494.50,399.20 C496.25,399.00 497.83,398.83 500.20,398.80 C502.57,398.77 506.17,398.97 508.70,399.00 C511.23,399.03 513.02,399.03 515.40,399.00 C517.78,398.97 520.80,398.80 523.00,398.80 C525.20,398.80 526.72,398.83 528.60,399.00 C530.48,399.17 532.40,399.48 534.30,399.80 C536.20,400.12 538.10,400.52 540.00,400.90 C541.90,401.28 544.03,401.73 545.70,402.10 C547.37,402.47 547.58,402.40 550.00,403.10 C552.42,403.80 556.80,405.25 560.20,406.30 C563.60,407.35 567.00,408.42 570.40,409.40 C573.80,410.38 577.18,411.35 580.60,412.20 C584.02,413.05 587.48,413.78 590.90,414.50 C594.32,415.22 597.70,415.90 601.10,416.50 C604.50,417.10 607.52,417.58 611.30,418.10 C615.08,418.62 620.27,419.20 623.80,419.60 C627.33,420.00 629.58,420.25 632.50,420.50 C635.42,420.75 638.38,420.85 641.30,421.10 C644.22,421.35 647.08,421.75 650.00,422.00 C652.92,422.25 655.88,422.42 658.80,422.60 C661.72,422.78 664.93,422.97 667.50,423.10 C670.07,423.23 673.08,423.35 674.20,423.40" fill="none" stroke="#e9707c" stroke-width="1.6" stroke-linejoin="round"/><path d="M401.20,421.90 C401.67,420.72 403.17,416.98 404.00,414.80 C404.83,412.62 405.47,410.78 406.20,408.80 C406.93,406.82 407.65,404.88 408.40,402.90 C409.15,400.92 409.95,398.88 410.70,396.90 C411.45,394.92 412.17,393.12 412.90,391.00 C413.63,388.88 414.17,387.13 415.10,384.20 C416.03,381.27 417.42,376.77 418.50,373.40 C419.58,370.03 420.65,366.77 421.60,364.00 C422.55,361.23 423.25,359.13 424.20,356.80 C425.15,354.47 426.25,352.02 427.30,350.00 C428.35,347.98 429.37,346.30 430.50,344.70 C431.63,343.10 432.93,341.65 434.10,340.40 C435.27,339.15 436.40,338.02 437.50,337.20 C438.60,336.38 439.70,335.82 440.70,335.50 C441.70,335.18 442.45,335.10 443.50,335.30 C444.55,335.50 445.83,336.20 447.00,336.70 C448.17,337.20 449.33,337.72 450.50,338.30 C451.67,338.88 452.83,339.62 454.00,340.20 C455.17,340.78 456.33,341.27 457.50,341.80 C458.67,342.33 459.53,342.95 461.00,343.40 C462.47,343.85 464.55,344.15 466.30,344.50 C468.05,344.85 469.75,345.27 471.50,345.50 C473.25,345.73 475.05,345.85 476.80,345.90 C478.55,345.95 480.25,345.80 482.00,345.80 C483.75,345.80 485.55,345.87 487.30,345.90 C489.05,345.93 490.33,345.93 492.50,346.00 C494.67,346.07 498.13,346.20 500.30,346.30 C502.47,346.40 503.75,346.45 505.50,346.60 C507.25,346.75 509.05,346.95 510.80,347.20 C512.55,347.45 514.25,347.72 516.00,348.10 C517.75,348.48 519.55,348.92 521.30,349.50 C523.05,350.08 524.75,350.80 526.50,351.60 C528.25,352.40 530.05,353.25 531.80,354.30 C533.55,355.35 535.25,356.65 537.00,357.90 C538.75,359.15 540.55,360.50 542.30,361.80 C544.05,363.10 546.05,364.53 547.50,365.70 C548.95,366.87 549.73,367.63 551.00,368.80 C552.27,369.97 553.57,371.30 555.10,372.70 C556.63,374.10 558.50,375.77 560.20,377.20 C561.90,378.63 563.60,380.00 565.30,381.30 C567.00,382.60 568.70,383.72 570.40,385.00 C572.10,386.28 573.80,387.73 575.50,389.00 C577.20,390.27 578.88,391.40 580.60,392.60 C582.32,393.80 584.08,395.02 585.80,396.20 C587.52,397.38 589.20,398.63 590.90,399.70 C592.60,400.77 594.30,401.73 596.00,402.60 C597.70,403.47 599.40,404.18 601.10,404.90 C602.80,405.62 604.50,406.27 606.20,406.90 C607.90,407.53 609.75,408.15 611.30,408.70 C612.85,409.25 614.00,409.68 615.50,410.20 C617.00,410.72 618.63,411.32 620.30,411.80 C621.97,412.28 623.75,412.68 625.50,413.10 C627.25,413.52 629.05,413.95 630.80,414.30 C632.55,414.65 634.25,414.93 636.00,415.20 C637.75,415.47 639.55,415.60 641.30,415.90 C643.05,416.20 644.75,416.62 646.50,417.00 C648.25,417.38 650.05,417.85 651.80,418.20 C653.55,418.55 655.25,418.85 657.00,419.10 C658.75,419.35 660.55,419.47 662.30,419.70 C664.05,419.93 665.52,420.23 667.50,420.50 C669.48,420.77 673.08,421.17 674.20,421.30" fill="none" stroke="#f0b46c" stroke-width="1.6" stroke-linejoin="round"/></g><line x1="399.9" y1="315.4" x2="675.0" y2="315.4" stroke="#222222" stroke-width="1.5"/><line x1="674.4" y1="315.4" x2="674.4" y2="535.4" stroke="#222222" stroke-width="1.3"/><line x1="401.4" y1="314.79999999999995" x2="401.4" y2="536.0" stroke="#2b2b2b" stroke-width="1.3"/><line x1="400.79999999999995" y1="535.4" x2="675.0" y2="535.4" stroke="#2b2b2b" stroke-width="1.3"/><line x1="397.09999999999997" y1="315.40" x2="401.4" y2="315.40" stroke="#2b2b2b" stroke-width="1.2"/><text x="394.20" y="319.20" text-anchor="end" font-size="12" fill="#1a1a1a">12</text><line x1="397.09999999999997" y1="352.07" x2="401.4" y2="352.07" stroke="#2b2b2b" stroke-width="1.2"/><text x="394.20" y="355.87" text-anchor="end" font-size="12" fill="#1a1a1a">8</text><line x1="397.09999999999997" y1="388.73" x2="401.4" y2="388.73" stroke="#2b2b2b" stroke-width="1.2"/><text x="394.20" y="392.53" text-anchor="end" font-size="12" fill="#1a1a1a">4</text><line x1="397.09999999999997" y1="425.40" x2="401.4" y2="425.40" stroke="#2b2b2b" stroke-width="1.2"/><text x="394.20" y="429.20" text-anchor="end" font-size="12" fill="#1a1a1a">0</text><line x1="397.09999999999997" y1="462.07" x2="401.4" y2="462.07" stroke="#2b2b2b" stroke-width="1.2"/><text x="394.20" y="465.87" text-anchor="end" font-size="12" fill="#1a1a1a">-4</text><line x1="397.09999999999997" y1="498.73" x2="401.4" y2="498.73" stroke="#2b2b2b" stroke-width="1.2"/><text x="394.20" y="502.53" text-anchor="end" font-size="12" fill="#1a1a1a">-8</text><line x1="397.09999999999997" y1="535.40" x2="401.4" y2="535.40" stroke="#2b2b2b" stroke-width="1.2"/><text x="394.20" y="539.20" text-anchor="end" font-size="12" fill="#1a1a1a">-12</text><line x1="399.09999999999997" y1="333.73" x2="401.4" y2="333.73" stroke="#2b2b2b" stroke-width="1.2"/><line x1="399.09999999999997" y1="370.40" x2="401.4" y2="370.40" stroke="#2b2b2b" stroke-width="1.2"/><line x1="399.09999999999997" y1="407.07" x2="401.4" y2="407.07" stroke="#2b2b2b" stroke-width="1.2"/><line x1="399.09999999999997" y1="443.73" x2="401.4" y2="443.73" stroke="#2b2b2b" stroke-width="1.2"/><line x1="399.09999999999997" y1="480.40" x2="401.4" y2="480.40" stroke="#2b2b2b" stroke-width="1.2"/><line x1="399.09999999999997" y1="517.07" x2="401.4" y2="517.07" stroke="#2b2b2b" stroke-width="1.2"/><line x1="401.40" y1="535.4" x2="401.40" y2="539.4" stroke="#2b2b2b" stroke-width="1.2"/><text x="401.70" y="552.70" text-anchor="middle" font-size="12" fill="#1a1a1a">250</text><line x1="456.00" y1="535.4" x2="456.00" y2="539.4" stroke="#2b2b2b" stroke-width="1.2"/><text x="456.30" y="552.70" text-anchor="middle" font-size="12" fill="#1a1a1a">300</text><line x1="510.60" y1="535.4" x2="510.60" y2="539.4" stroke="#2b2b2b" stroke-width="1.2"/><text x="510.90" y="552.70" text-anchor="middle" font-size="12" fill="#1a1a1a">350</text><line x1="565.20" y1="535.4" x2="565.20" y2="539.4" stroke="#2b2b2b" stroke-width="1.2"/><text x="565.50" y="552.70" text-anchor="middle" font-size="12" fill="#1a1a1a">400</text><line x1="619.80" y1="535.4" x2="619.80" y2="539.4" stroke="#2b2b2b" stroke-width="1.2"/><text x="620.10" y="552.70" text-anchor="middle" font-size="12" fill="#1a1a1a">450</text><line x1="674.40" y1="535.4" x2="674.40" y2="539.4" stroke="#2b2b2b" stroke-width="1.2"/><text x="674.70" y="552.70" text-anchor="middle" font-size="12" fill="#1a1a1a">500</text><line x1="428.70" y1="535.4" x2="428.70" y2="537.6" stroke="#2b2b2b" stroke-width="1.2"/><line x1="483.30" y1="535.4" x2="483.30" y2="537.6" stroke="#2b2b2b" stroke-width="1.2"/><line x1="537.90" y1="535.4" x2="537.90" y2="537.6" stroke="#2b2b2b" stroke-width="1.2"/><line x1="592.50" y1="535.4" x2="592.50" y2="537.6" stroke="#2b2b2b" stroke-width="1.2"/><line x1="647.10" y1="535.4" x2="647.10" y2="537.6" stroke="#2b2b2b" stroke-width="1.2"/><text x="538.50" y="574.40" text-anchor="middle" font-size="14.7" fill="#1a1a1a">Wavelength (nm)</text><text transform="translate(373.00,425.40) rotate(-90)" text-anchor="middle" font-size="14.6" fill="#1a1a1a">CD (mdeg)</text><text x="356.4" y="303.8" font-size="14.5" font-weight="bold" fill="#000">d</text><line x1="585" y1="476.8" x2="608.5" y2="476.8" stroke="#e9707c" stroke-width="2.0"/><text x="614.1" y="480.95" font-size="11.45" fill="#1a1a1a">(S)-Ph</text><line x1="585" y1="492.9" x2="608.5" y2="492.9" stroke="#f0b46c" stroke-width="2.0"/><text x="614.1" y="497.05" font-size="11.45" fill="#1a1a1a">(S)-Na</text></svg>
</body></html>
